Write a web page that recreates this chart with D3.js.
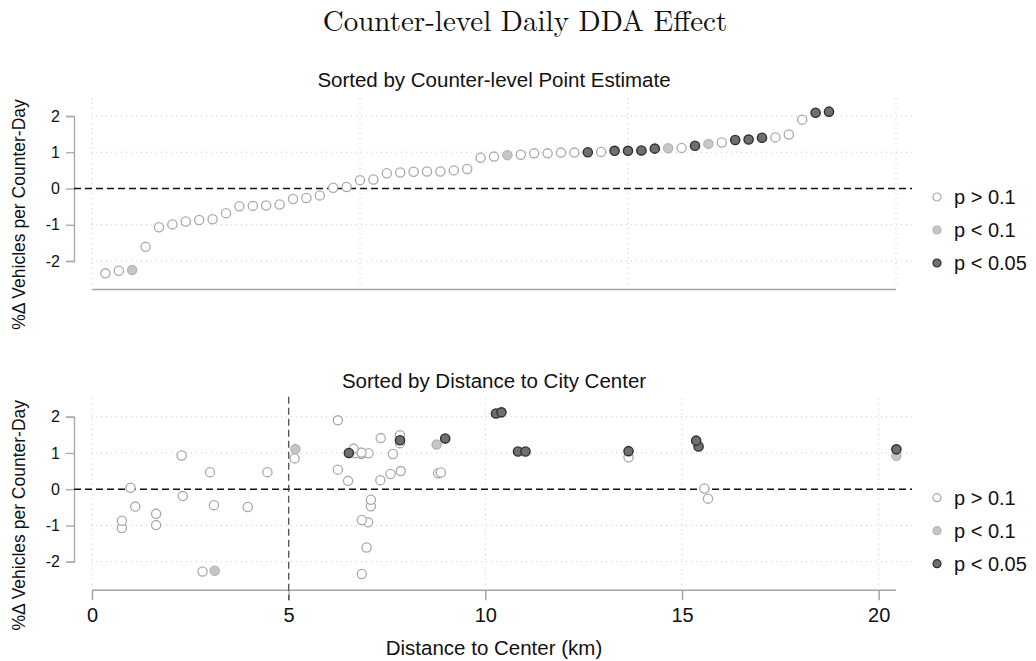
<!DOCTYPE html>
<html>
<head>
<meta charset="utf-8">
<script src="https://cdn.jsdelivr.net/npm/d3@7"></script>
<style>
  body { margin: 0; background: #fff; }
  svg { display: block; }
</style>
</head>
<body>
<div id="chart"></div>
<script>
// one entry per counter: distance to center (km), point estimate, significance class
const distKm = [
  6.86, 2.81, 6.98, 0.76, 1.63, 7.02, 0.76, 6.86, 1.63, 3.96,
  1.10, 7.09, 3.10, 7.09, 15.66, 2.31, 15.57, 0.98, 6.51, 7.33,
  7.59, 8.80, 8.87, 3.00, 4.46, 7.85, 6.25, 5.15, 13.64, 2.28,
  6.85, 7.65, 6.70, 7.03, 6.85, 6.65, 7.83, 7.34, 7.83, 6.25,
  3.12, 20.45, 5.17, 8.76,
  6.53, 10.83, 11.02, 13.64, 20.45, 15.42, 15.36, 7.83, 8.98, 10.27, 10.41
];
const effect = [
  -2.34, -2.27, -1.61, -1.07, -0.99, -0.91, -0.87, -0.85, -0.68, -0.49,
  -0.48, -0.47, -0.44, -0.29, -0.26, -0.19, 0.02, 0.04, 0.23, 0.25,
  0.42, 0.44, 0.46, 0.47, 0.47, 0.50, 0.54, 0.85, 0.88, 0.93,
  0.97, 0.97, 0.99, 0.99, 1.01, 1.12, 1.27, 1.41, 1.49, 1.90,
  -2.25, 0.92, 1.11, 1.23,
  1.00, 1.04, 1.04, 1.05, 1.10, 1.18, 1.34, 1.35, 1.40, 2.09, 2.12
];
// 0: p > 0.1, 1: p < 0.1, 2: p < 0.05
const sigClass = [
  0,0,0,0,0,0,0,0,0,0, 0,0,0,0,0,0,0,0,0,0,
  0,0,0,0,0,0,0,0,0,0, 0,0,0,0,0,0,0,0,0,0,
  1,1,1,1,
  2,2,2,2,2,2,2,2,2,2,2
];
const legendLabels = ["p > 0.1", "p < 0.1", "p < 0.05"];
const yTicks = [-2, -1, 0, 1, 2];
const xTicksDist = [0, 5, 10, 15, 20];
const rankGrid = [0, 20, 40, 60];

const width = 1036, height = 661;
const fills = ["#ffffff", "#c6c6c6", "#6f6f6f"];
const strokes = ["#a9a9a9", "#b4b4b4", "#2e2e2e"];
const axisColor = "#a6a6a6";
const gridColor = "#c8c8c8";

const svg = d3.select("#chart").append("svg")
  .attr("width", width).attr("height", height)
  .style("font-family", "'Liberation Sans', Arial, sans-serif");

const data = distKm.map((d, i) => ({ dist: d, est: effect[i], sig: sigClass[i] }));
const sorted = data.slice().sort((a, b) => a.est - b.est);
sorted.forEach((d, i) => d.rank = i + 1);

svg.append("text")
  .attr("x", 525).attr("y", 31)
  .attr("text-anchor", "middle")
  .style("font-family", "'Latin Modern Roman', 'Liberation Serif', 'DejaVu Serif', serif")
  .style("font-size", "29px")
  .attr("fill", "#111")
  .text("Counter-level Daily DDA Effect");

function drawPanel(opts) {
  const { top, x, xGrid, points, xAcc, subtitle, showXAxis } = opts;
  const g = svg.append("g");
  const y = d3.scaleLinear().domain([-2, 2]).range([top + 145, top]);
  const axisY = top + 173.5;

  g.append("text")
    .attr("x", 494).attr("y", top - 29)
    .attr("text-anchor", "middle")
    .style("font-size", "20.5px").attr("fill", "#111")
    .text(subtitle);

  // horizontal gridlines
  g.selectAll(".hgrid").data(yTicks.filter(t => t !== 0)).enter().append("line")
    .attr("x1", 91).attr("x2", 912)
    .attr("y1", d => y(d)).attr("y2", d => y(d))
    .attr("stroke", gridColor).attr("stroke-width", 1)
    .attr("stroke-dasharray", "1,4");

  // vertical gridlines
  g.selectAll(".vgrid").data(xGrid).enter().append("line")
    .attr("x1", d => x(d)).attr("x2", d => x(d))
    .attr("y1", top - 18).attr("y2", axisY - 4)
    .attr("stroke", gridColor).attr("stroke-width", 1)
    .attr("stroke-dasharray", "1,4");

  // y axis
  const yAxis = d3.axisLeft(y).tickValues(yTicks).tickSize(8).tickPadding(6)
    .tickFormat(d3.format("d"));
  const ya = g.append("g").attr("transform", "translate(74,0)").call(yAxis);
  ya.select(".domain").attr("stroke", axisColor).attr("stroke-width", 1.3);
  ya.selectAll(".tick line").attr("stroke", axisColor).attr("stroke-width", 1.3);
  ya.selectAll(".tick text").style("font-size", "16px").attr("fill", "#111")
    .text(d => d < 0 ? "-" + Math.abs(d) : d);

  g.append("text")
    .attr("transform", `translate(25,${y(0) + 26}) rotate(-90)`)
    .attr("text-anchor", "middle")
    .style("font-size", "17.5px").attr("fill", "#111")
    .text("%Δ Vehicles per Counter-Day");

  // zero line
  g.append("line")
    .attr("x1", 74).attr("x2", 912)
    .attr("y1", y(0)).attr("y2", y(0))
    .attr("stroke", "#111").attr("stroke-width", 1.4)
    .attr("stroke-dasharray", "7,4");

  // x axis
  if (showXAxis) {
    const xAxis = d3.axisBottom(x).tickValues(xTicksDist).tickSize(10).tickPadding(8);
    const xa = g.append("g").attr("transform", `translate(0,${axisY})`).call(xAxis);
    xa.select(".domain").attr("stroke", axisColor).attr("stroke-width", 1.5)
      .attr("d", `M${x.range()[0]},0H${x.range()[1]}`);
    xa.selectAll(".tick line").attr("stroke", axisColor).attr("stroke-width", 1.5);
    xa.selectAll(".tick text").style("font-size", "20px").attr("fill", "#111");
    // 5 km reference line
    g.append("line")
      .attr("x1", x(5)).attr("x2", x(5))
      .attr("y1", top - 20).attr("y2", axisY + 10)
      .attr("stroke", "#555").attr("stroke-width", 1.4)
      .attr("stroke-dasharray", "7,4");
    g.append("text")
      .attr("x", 494).attr("y", axisY + 65)
      .attr("text-anchor", "middle")
      .style("font-size", "20.5px").attr("fill", "#111")
      .text("Distance to Center (km)");
  } else {
    g.append("line")
      .attr("x1", x.range()[0]).attr("x2", x.range()[1])
      .attr("y1", axisY).attr("y2", axisY)
      .attr("stroke", axisColor).attr("stroke-width", 1.5);
  }

  // points: open first, then grey, then dark on top
  const ordered = points.slice().sort((a, b) => a.sig - b.sig);
  g.selectAll(".pt").data(ordered).enter().append("circle")
    .attr("cx", d => x(xAcc(d)))
    .attr("cy", d => y(d.est))
    .attr("r", 4.6)
    .attr("fill", d => fills[d.sig])
    .attr("stroke", d => strokes[d.sig])
    .attr("stroke-width", d => d.sig === 2 ? 1.4 : 1.3);

  // legend
  const leg = g.selectAll(".leg").data(legendLabels).enter().append("g")
    .attr("transform", (d, i) => `translate(937,${top + 81 + i * 33})`);
  leg.append("circle").attr("r", 4)
    .attr("fill", (d, i) => fills[i])
    .attr("stroke", (d, i) => strokes[i])
    .attr("stroke-width", 1.2);
  leg.append("text").attr("x", 17).attr("y", 7)
    .style("font-size", "20px").attr("fill", "#111")
    .text(d => d);
}

const xRank = d3.scaleLinear().domain([0, 60]).range([92, 896]);
drawPanel({
  top: 116, x: xRank, xGrid: rankGrid, points: sorted, xAcc: d => d.rank,
  subtitle: "Sorted by Counter-level Point Estimate", showXAxis: false
});

const xDist = d3.scaleLinear().domain([0, 20.44]).range([92, 896]);
drawPanel({
  top: 416.7, x: xDist, xGrid: [0, 10, 15, 20], points: data, xAcc: d => d.dist,
  subtitle: "Sorted by Distance to City Center", showXAxis: true
});
</script>
</body>
</html>
